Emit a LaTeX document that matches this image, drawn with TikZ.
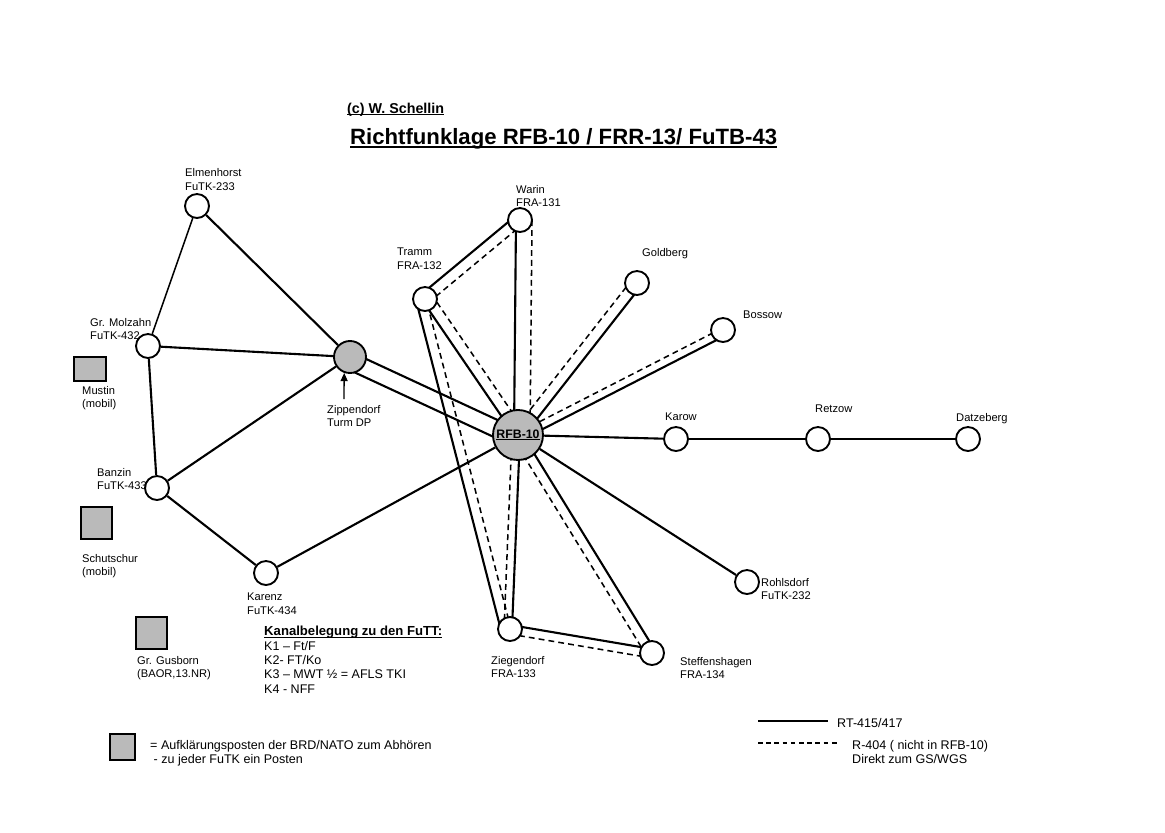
\documentclass[tikz,border=0pt]{standalone}
\usepackage{fontspec}
\setmainfont{Liberation Sans}
\usetikzlibrary{calc,backgrounds,arrows.meta}
\newcommand{\labfont}{\fontsize{9.5}{11.5}\selectfont}
\newcommand{\txtfont}{\fontsize{10.7}{12.3}\selectfont}
\newcommand{\myul}[3]{\setbox0\hbox{#3}\rlap{\rule[-#1]{\wd0}{#2}}\box0}
\newcommand{\pairline}[4]{%
  \draw[solidln] ($(#1)!#3*0.03cm!90:(#2)$) -- ($(#2)!#3*0.03cm!-90:(#1)$);
  \draw[dashln] ($(#1)!#4*0.03cm!90:(#2)$) -- ($(#2)!#4*0.03cm!-90:(#1)$);}
\begin{document}
\begin{tikzpicture}[x=0.03cm,y=-0.03cm,
  stn/.style={circle,draw,line width=1.6pt,fill=white,minimum size=0.72cm,inner sep=0pt},
  hub/.style={circle,draw,line width=1.6pt,fill=black!27,inner sep=0pt},
  post/.style={draw,line width=0.9pt,fill=black!27,inner sep=0pt},
  lab/.style={font=\labfont,align=left,inner sep=0pt,anchor=north west},
  txt/.style={inner sep=0pt,anchor=base west},
  solidln/.style={line width=1.8pt},
  thinln/.style={line width=1.3pt},
  dashln/.style={line width=1.3pt,dash pattern=on 5pt off 3.5pt}]
\useasboundingbox (0,0) rectangle (1165,832);

% title
\node[txt,font=\bfseries\fontsize{12.2}{14}\selectfont] (copy) at (347,113) {\myul{2pt}{0.8pt}{(c) W. Schellin}};
\node[txt,font=\bfseries\fontsize{18.9}{22}\selectfont] (title) at (350,144) {\myul{3pt}{1.5pt}{Richtfunklage RFB-10 / FRR-13/ FuTB-43}};

% stations
\node[stn] (elm) at (197,206) {};
\node[stn] (molz) at (148,346) {};
\node[hub,minimum size=0.96cm] (zipp) at (350,357) {};
\node[stn] (banz) at (157,488) {};
\node[stn] (kar) at (266,573) {};
\node[hub,minimum size=1.5cm,font=\bfseries\fontsize{10.5}{12}\selectfont] (rfb) at (518,435) {\myul{1.6pt}{0.8pt}{RFB-10}};
\node[stn] (warin) at (520,220) {};
\node[stn] (tramm) at (425,299) {};
\node[stn] (gold) at (637,283) {};
\node[stn] (boss) at (723,330) {};
\node[stn] (karow) at (676,439) {};
\node[stn] (retz) at (818,439) {};
\node[stn] (datz) at (968,439) {};
\node[stn] (rohl) at (747,582) {};
\node[stn] (zieg) at (510,629) {};
\node[stn] (steff) at (652,653) {};

% posts
\node[post,minimum width=0.96cm,minimum height=0.72cm] (must) at (90,369) {};
\node[post,minimum width=0.93cm,minimum height=0.96cm] (schut) at (96.5,523) {};
\node[post,minimum width=0.93cm,minimum height=0.96cm] (gus) at (151.5,633) {};
\node[post,minimum width=0.75cm,minimum height=0.78cm] (legpost) at (122.5,747) {};

% connectors
\begin{scope}[on background layer]
\draw[thinln] (elm) -- (molz);
\draw[solidln] (elm) -- (zipp);
\draw[solidln] (molz) -- (zipp);
\draw[solidln] (molz) -- (banz);
\draw[solidln] (banz) -- (zipp);
\draw[solidln] (banz) -- (kar);
\draw[solidln] (kar) -- (rfb);
\draw[solidln] ($(zipp)!5*0.03cm!90:(rfb)$) -- ($(rfb)!5*0.03cm!-90:(zipp)$);
\draw[solidln] ($(zipp)!-12*0.03cm!90:(rfb)$) -- ($(rfb)!-12*0.03cm!-90:(zipp)$);
\draw[solidln] (rfb) -- (karow);
\draw[solidln] (karow) -- (retz);
\draw[solidln] (retz) -- (datz);
\draw[solidln] (rfb) -- (rohl);
\pairline{rfb}{warin}{4}{-12}
\pairline{tramm}{warin}{6}{-5}
\pairline{rfb}{tramm}{3}{-8}
\pairline{zieg}{tramm}{9}{-1}
\pairline{gold}{rfb}{5}{-6}
\pairline{boss}{rfb}{6}{-2}
\pairline{rfb}{zieg}{2}{-6}
\pairline{rfb}{steff}{4}{-6}
\pairline{zieg}{steff}{4}{-5}
\end{scope}

% arrow to Zippendorf
\coordinate (arrbase) at (344,399);
\draw[line width=1.1pt,-{Triangle[length=7pt,width=6pt]}] (arrbase) -- (zipp.250);

% labels
\node[lab] (elml) at (185,168.5) {Elmenhorst\\FuTK-233};
\node[lab] (molzl) at (90,318) {Gr. Molzahn\\FuTK-432};
\node[lab] (mustl) at (82,386) {Mustin\\(mobil)};
\node[lab] (zippl) at (327,405) {Zippendorf\\Turm DP};
\node[lab] (banzl) at (97,468) {Banzin\\FuTK-433};
\node[lab] (schutl) at (82,554) {Schutschur\\(mobil)};
\node[lab] (karl) at (247,593) {Karenz\\FuTK-434};
\node[lab] (gusl) at (137,656) {Gr. Gusborn\\(BAOR,13.NR)};
\node[lab] (warinl) at (516,185) {Warin\\FRA-131};
\node[lab] (tramml) at (397,248) {Tramm\\FRA-132};
\node[lab] (goldl) at (642,248) {Goldberg};
\node[lab] (bossl) at (743,311) {Bossow};
\node[lab] (karowl) at (665,413) {Karow};
\node[lab] (retzl) at (815,405) {Retzow};
\node[lab] (datzl) at (956,413) {Datzeberg};
\node[lab] (rohll) at (761,578) {Rohlsdorf\\FuTK-232};
\node[lab] (ziegl) at (491,656) {Ziegendorf\\FRA-133};
\node[lab] (steffl) at (680,657) {Steffenshagen\\FRA-134};

% channel table
\node[lab,font=\txtfont] (kanal) at (264,626) {{\bfseries\fontsize{11.2}{12.3}\selectfont\myul{1.8pt}{0.8pt}{Kanalbelegung zu den FuTT:}}\\K1 – Ft/F\\K2- FT/Ko\\K3 – MWT ½ = AFLS TKI\\K4 - NFF};

% legend
\node[lab,font=\txtfont,align=left] (postl) at (150,740) {= Aufklärungsposten der BRD/NATO zum Abhören\\\ - zu jeder FuTK ein Posten};
\coordinate (ls1) at (758,721);
\coordinate (ls2) at (828,721);
\draw[solidln] (ls1) -- (ls2);
\node[inner sep=0pt,anchor=west,font=\txtfont] (rtl) at (837,723) {RT-415/417};
\coordinate (ld1) at (758,743);
\coordinate (ld2) at (837,743);
\draw[thinln,dash pattern=on 4pt off 3pt] (ld1) -- (ld2);
\node[lab,font=\txtfont] (rl) at (852,740) {R-404 ( nicht in RFB-10)\\Direkt zum GS/WGS};
\end{tikzpicture}
\end{document}
